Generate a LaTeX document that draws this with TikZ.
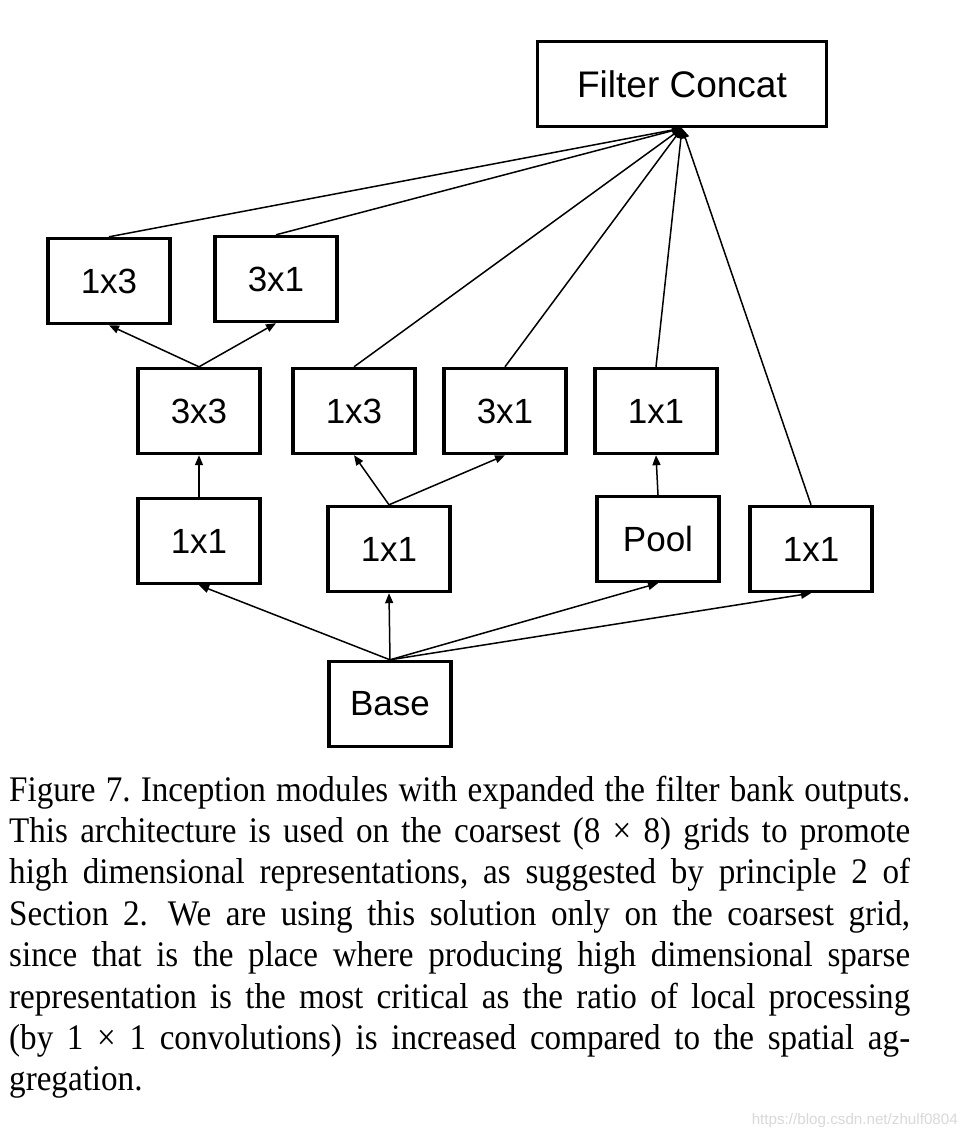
\documentclass[tikz,border=0pt]{standalone}
\usepackage{fontspec}
\usetikzlibrary{arrows.meta}
\newfontfamily\boxfont{Liberation Sans}
\newfontfamily\capfont[FakeStretch=0.92]{Liberation Serif}
\newfontfamily\wmfont{Liberation Sans}
\frenchspacing
\begin{document}
\begin{tikzpicture}[x=1pt,y=-1pt,
  blk/.style={draw,line width=3.4pt,minimum width=122pt,minimum height=85pt,inner sep=0pt,
    font=\boxfont\fontsize{35}{40}\selectfont},
  conn/.style={line width=1.5pt,-{Triangle[length=10pt,width=8pt]}},
  capline/.style={anchor=base west,inner sep=0pt,font=\capfont\fontsize{36}{41}\selectfont}]
\useasboundingbox[fill=white] (0,0) rectangle (968,1136);
% nodes
\node[blk,minimum width=289pt,font=\boxfont\fontsize{37}{44}\selectfont] (fc) at (682,84) {Filter Concat};
\node[blk] (ta) at (109,281) {1x3};
\node[blk] (tb) at (276,279) {3x1};
\node[blk] (m33) at (199,411) {3x3};
\node[blk] (m13) at (354,411) {1x3};
\node[blk] (m31) at (505,411) {3x1};
\node[blk] (mp) at (656,411) {1x1};
\node[blk] (l11) at (199,541) {1x1};
\node[blk] (c11) at (389,549) {1x1};
\node[blk] (pool) at (658,539) {Pool};
\node[blk] (r11) at (811,549) {1x1};
\node[blk] (base) at (390,704) {Base};
% connectors
\draw[conn] (base.north) -- (l11.south);
\draw[conn] (base.north) -- (c11.south);
\draw[conn] (base.north) -- (pool.south);
\draw[conn] (base.north) -- (r11.south);
\draw[conn] (l11.north) -- (m33.south);
\draw[conn] (c11.north) -- (m13.south);
\draw[conn] (c11.north) -- (m31.south);
\draw[conn] (pool.north) -- (mp.south);
\draw[conn] (m33.north) -- (ta.south);
\draw[conn] (m33.north) -- (tb.south);
\draw[conn] (ta.north) -- (fc.south);
\draw[conn] (tb.north) -- (fc.south);
\draw[conn] (m13.north) -- (fc.south);
\draw[conn] (m31.north) -- (fc.south);
\draw[conn] (mp.north) -- (fc.south);
\draw[conn] (r11.north) -- (fc.south);
% caption
\node[capline] (c1) at (9,801) {\makebox[901pt][s]{Figure 7. Inception modules with expanded the filter bank outputs.}};
\node[capline] (c2) at (9,842.4) {\makebox[901pt][s]{This architecture is used on the coarsest (8 × 8) grids to promote}};
\node[capline] (c3) at (9,883.8) {\makebox[901pt][s]{high dimensional representations, as suggested by principle 2 of}};
\node[capline] (c4) at (9,925.2) {\makebox[901pt][s]{Section 2.\hspace{0.15em} We are using this solution only on the coarsest grid,}};
\node[capline] (c5) at (9,966.6) {\makebox[901pt][s]{since that is the place where producing high dimensional sparse}};
\node[capline] (c6) at (9,1008) {\makebox[901pt][s]{representation is the most critical as the ratio of local processing}};
\node[capline] (c7) at (9,1049.4) {\makebox[901pt][s]{(by 1 × 1 convolutions) is increased compared to the spatial ag-}};
\node[capline] (c8) at (9,1090.8) {gregation.};
% watermark
\node[anchor=base east,inner sep=0pt,text=black!15] (wm) at (958,1124) {\resizebox{206pt}{!}{\wmfont\fontsize{18}{20}\selectfont https://blog.csdn.net/zhulf0804}};
\end{tikzpicture}
\end{document}
